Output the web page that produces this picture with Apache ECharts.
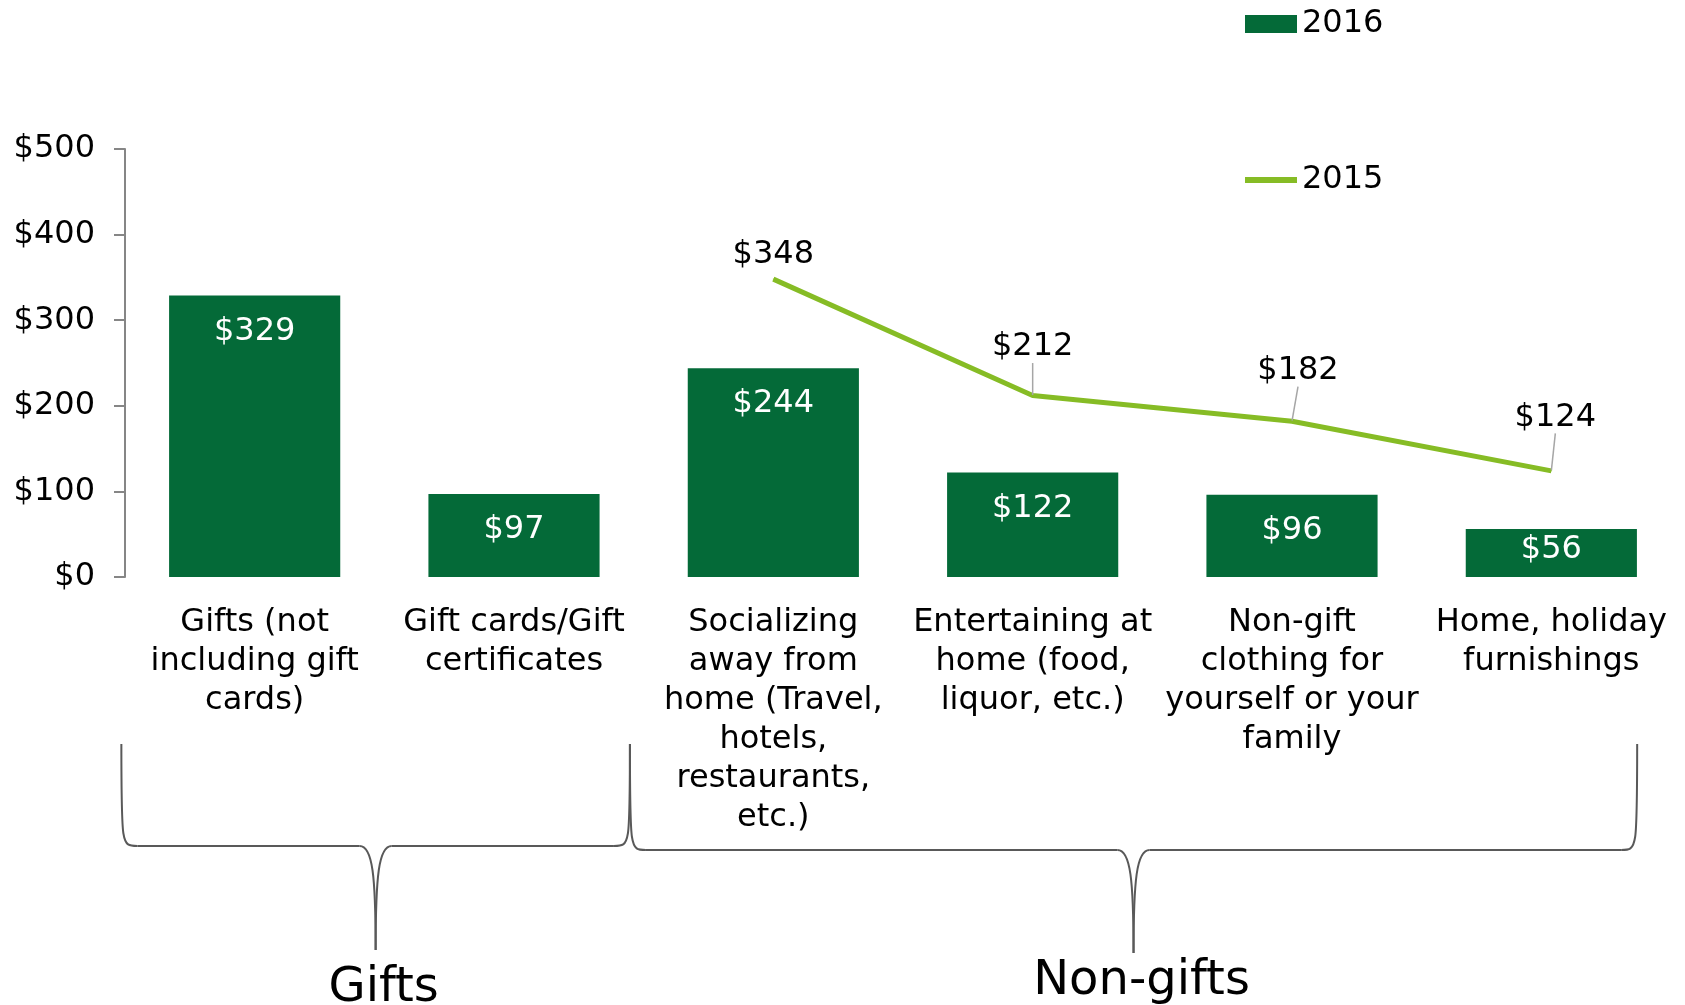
<!DOCTYPE html>
<html>
<head>
<meta charset="utf-8">
<script src="https://cdn.jsdelivr.net/npm/echarts@6/dist/echarts.min.js"></script>
<style>
  html, body { margin: 0; padding: 0; background: #fff; }
  #chart { width: 1685px; height: 1005px; }
</style>
</head>
<body>
<div id="chart"></div>
<script>
// ---- Data ----
const categories = [
  'Gifts (not\nincluding gift\ncards)',
  'Gift cards/Gift\ncertificates',
  'Socializing\naway from\nhome (Travel,\nhotels,\nrestaurants,\netc.)',
  'Entertaining at\nhome (food,\nliquor, etc.)',
  'Non-gift\nclothing for\nyourself or your\nfamily',
  'Home, holiday\nfurnishings'
];
const values2016 = [329, 97, 244, 122, 96, 56];
const values2015 = [null, null, 348, 212, 182, 124];
const seriesNames = ['2016', '2015'];
const yTickValues = [0, 100, 200, 300, 400, 500];
const groupLabels = ['Gifts', 'Non-gifts'];
const groupFirst = [0, 2];
const groupLast = [1, 5];

// ---- Style ----
const FONT = 'DejaVu Sans';
const FS = 32;
const BAR_COLOR = '#046A38';
const LINE_COLOR = '#86BC25';
const TEXT_COLOR = '#000000';

const chart = echarts.init(document.getElementById('chart'), null, { renderer: 'canvas' });

// label placement for the 2015 line (layout only)
const lineLabelDistance = [0, 0, 8, 32, 34, 37];
const lineLabelDx = [0, 0, 0, 0, 6, 4];
const firstLineIdx = values2015.findIndex(x => x !== null);
const lineData = values2015.map((v, i) => {
  if (v === null) return null;
  const first = i === firstLineIdx;
  return {
    value: v,
    label: { distance: lineLabelDistance[i], offset: [lineLabelDx[i], 0] },
    labelLine: { show: !first }
  };
});

const barData = values2016.map(v => ({
  value: v,
  label: v < 70 ? { position: 'inside', offset: [0, -3] } : {}
}));

chart.setOption({
  backgroundColor: '#ffffff',
  animation: false,
  textStyle: { fontFamily: FONT, color: TEXT_COLOR },
  legend: {
    orient: 'vertical',
    left: 1240,
    top: 3,
    itemWidth: 52,
    itemHeight: 18,
    itemGap: 124,
    textStyle: { fontFamily: FONT, fontSize: FS, color: TEXT_COLOR, lineHeight: 32 },
    data: [
      { name: seriesNames[0], icon: 'rect' },
      { name: seriesNames[1], icon: 'path://M0 0 H52 V6 H0 Z' }
    ]
  },
  grid: { left: 125, right: 4, top: 149, bottom: 428, containLabel: false },
  xAxis: {
    type: 'category',
    data: categories,
    axisLine: { show: false },
    axisTick: { show: false },
    axisLabel: {
      interval: 0,
      margin: 26,
      fontFamily: FONT,
      fontSize: FS,
      lineHeight: 39,
      color: TEXT_COLOR,
      align: 'center'
    }
  },
  yAxis: {
    type: 'value',
    min: yTickValues[0],
    max: yTickValues[yTickValues.length - 1],
    interval: yTickValues[1] - yTickValues[0],
    axisLine: { show: true, lineStyle: { color: '#868686', width: 2 } },
    axisTick: { show: true, length: 11, lineStyle: { color: '#868686', width: 2 } },
    splitLine: { show: false },
    axisLabel: {
      margin: 30,
      fontFamily: FONT,
      fontSize: FS,
      color: TEXT_COLOR,
      padding: [10, 0, 0, 0],
      formatter: v => '$' + v
    }
  },
  series: [
    {
      name: seriesNames[0],
      type: 'bar',
      data: barData,
      barCategoryGap: '34%',
      itemStyle: { color: BAR_COLOR },
      label: {
        show: true,
        position: 'insideTop',
        distance: 20,
        fontFamily: FONT,
        fontSize: FS,
        color: '#ffffff',
        formatter: p => '$' + p.value
      }
    },
    {
      name: seriesNames[1],
      type: 'line',
      data: lineData,
      connectNulls: false,
      symbol: 'circle',
      symbolSize: 1,
      showSymbol: true,
      itemStyle: { color: LINE_COLOR },
      lineStyle: { color: LINE_COLOR, width: 5 },
      z: 3,
      label: {
        show: true,
        position: 'top',
        fontFamily: FONT,
        fontSize: FS,
        color: TEXT_COLOR,
        formatter: p => '$' + p.value
      },
      labelLine: { show: true, lineStyle: { color: '#a6a6a6', width: 1.5 } }
    }
  ]
});

// ---- Group braces, positioned from the category axis ----
const c0 = chart.convertToPixel({ xAxisIndex: 0 }, 0);
const c1 = chart.convertToPixel({ xAxisIndex: 0 }, 1);
const step = c1 - c0;
const xAt = idx => c0 + idx * step;
const braceInset = [[-0.014, -0.053], [-0.053, -0.169]];
const braceTop = [744, 744];
const braceMid = [846, 850];
const braceTip = [950, 953];
const braceTextY = [989, 982];
const r = 16;
const braceStyle = { stroke: '#595959', lineWidth: 2, fill: null };

function braceParts(xL, xR, yTop, yMid, yTip) {
  const xM = (xL + xR) / 2;
  const bz = (x1, y1, cpx1, cpy1, cpx2, cpy2, x2, y2) => ({
    type: 'bezierCurve', shape: { x1, y1, cpx1, cpy1, cpx2, cpy2, x2, y2 }, style: braceStyle
  });
  const ln = (x1, y1, x2, y2) => ({ type: 'line', shape: { x1, y1, x2, y2 }, style: braceStyle });
  return [
    bz(xL, yTop, xL, yMid, xL, yMid, xL + r, yMid),
    ln(xL + r, yMid, xM - r, yMid),
    bz(xM - r, yMid, xM - 3, yMid, xM, yMid + 30, xM, yTip),
    bz(xM, yTip, xM, yMid + 30, xM + 3, yMid, xM + r, yMid),
    ln(xM + r, yMid, xR - r, yMid),
    bz(xR - r, yMid, xR, yMid, xR, yMid, xR, yTop)
  ];
}

const graphics = [];
groupLabels.forEach((lab, g) => {
  const xL = xAt(groupFirst[g] - 0.5 + braceInset[g][0]);
  const xR = xAt(groupLast[g] + 0.5 + braceInset[g][1]);
  braceParts(xL, xR, braceTop[g], braceMid[g], braceTip[g]).forEach(p => graphics.push(p));
  graphics.push({
    type: 'text',
    x: (xL + xR) / 2 + 8,
    y: braceTextY[g],
    style: {
      text: lab,
      fill: TEXT_COLOR,
      font: '48px "DejaVu Sans"',
      align: 'center',
      verticalAlign: 'middle',
      textAlign: 'center',
      textVerticalAlign: 'middle'
    }
  });
});
chart.setOption({ graphic: graphics });
</script>
</body>
</html>
